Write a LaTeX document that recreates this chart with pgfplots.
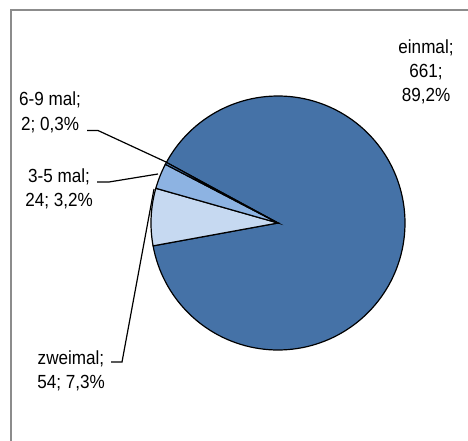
\documentclass[border=0pt]{standalone}
\usepackage{pgfplots}
\pgfplotsset{compat=1.18}
\usepackage{fontspec}
\setmainfont{Liberation Sans}[FakeStretch=0.9]
\definecolor{cA}{HTML}{4572A7}
\definecolor{cB}{HTML}{C6D9F1}
\definecolor{cC}{HTML}{8DB3E2}
\definecolor{cD}{HTML}{558ED5}
\definecolor{frame}{HTML}{8C8C8C}
\newcommand\lblfont{\fontsize{19}{24}\selectfont}
\begin{document}
\begin{tikzpicture}
% counts
\def\nA{661}\def\nB{54}\def\nC{24}\def\nD{2}
\pgfmathsetmacro\tot{\nA+\nB+\nC+\nD}
\pgfmathsetmacro\aO{151.5}
\pgfmathsetmacro\aA{\aO-\nA/\tot*360}
\pgfmathsetmacro\aB{\aA-\nB/\tot*360}
\pgfmathsetmacro\aC{\aB-\nC/\tot*360}
\pgfmathsetmacro\aD{\aC-\nD/\tot*360}
\def\cx{278}\def\cy{218}\def\rr{127}
\begin{axis}[scale only axis, width=468pt, height=441pt,
  xmin=0, xmax=468, ymin=0, ymax=441, hide axis, clip=false]
\addplot[fill=cA, draw=black, line width=1.2pt, domain=\aA:\aO, samples=150] ({\cx+\rr*cos(x)},{\cy+\rr*sin(x)}) -- (axis cs:\cx,\cy) -- cycle;
\addplot[fill=cB, draw=black, line width=1.2pt, domain=\aB:\aA, samples=30] ({\cx+\rr*cos(x)},{\cy+\rr*sin(x)}) -- (axis cs:\cx,\cy) -- cycle;
\addplot[fill=cC, draw=black, line width=1.2pt, domain=\aC:\aB, samples=20] ({\cx+\rr*cos(x)},{\cy+\rr*sin(x)}) -- (axis cs:\cx,\cy) -- cycle;
\addplot[fill=cD, draw=black, line width=1.2pt, domain=\aD:\aC, samples=5] ({\cx+\rr*cos(x)},{\cy+\rr*sin(x)}) -- (axis cs:\cx,\cy) -- cycle;
% leader lines
\addplot[black, line width=1.2pt, mark=none] coordinates {(87,310.5) (98,310.5) (166,279)};
\addplot[black, line width=1.2pt, mark=none] coordinates {(97,259) (109,259) (158,267)};
\addplot[black, line width=1.2pt, mark=none] coordinates {(111,79) (122,79) (154,252)};
% labels
\node[anchor=base, inner sep=0pt, font=\lblfont] at (axis cs:426,387.5) {einmal;};
\node[anchor=base, inner sep=0pt, font=\lblfont] at (axis cs:426,363.5) {661;};
\node[anchor=base, inner sep=0pt, font=\lblfont] at (axis cs:426,339.5) {89,2\%};
\node[anchor=base, inner sep=0pt, font=\lblfont] at (axis cs:50,335) {6-9 mal;};
\node[anchor=base, inner sep=0pt, font=\lblfont] at (axis cs:50,310.5) {2; 0,3\%};
\node[anchor=base, inner sep=0pt, font=\lblfont] at (axis cs:59,258.5) {3-5 mal;};
\node[anchor=base, inner sep=0pt, font=\lblfont] at (axis cs:59,234) {24; 3,2\%};
\node[anchor=base, inner sep=0pt, font=\lblfont] at (axis cs:71,76) {zweimal;};
\node[anchor=base, inner sep=0pt, font=\lblfont] at (axis cs:71,52.5) {54; 7,3\%};
% chart area frame
\draw[frame, line width=2pt] (axis cs:10.5,-10) -- (axis cs:10.5,430.5) -- (axis cs:480,430.5);
\end{axis}
\pgfresetboundingbox
\useasboundingbox (0,0) rectangle (468pt,441pt);
\end{tikzpicture}
\end{document}
